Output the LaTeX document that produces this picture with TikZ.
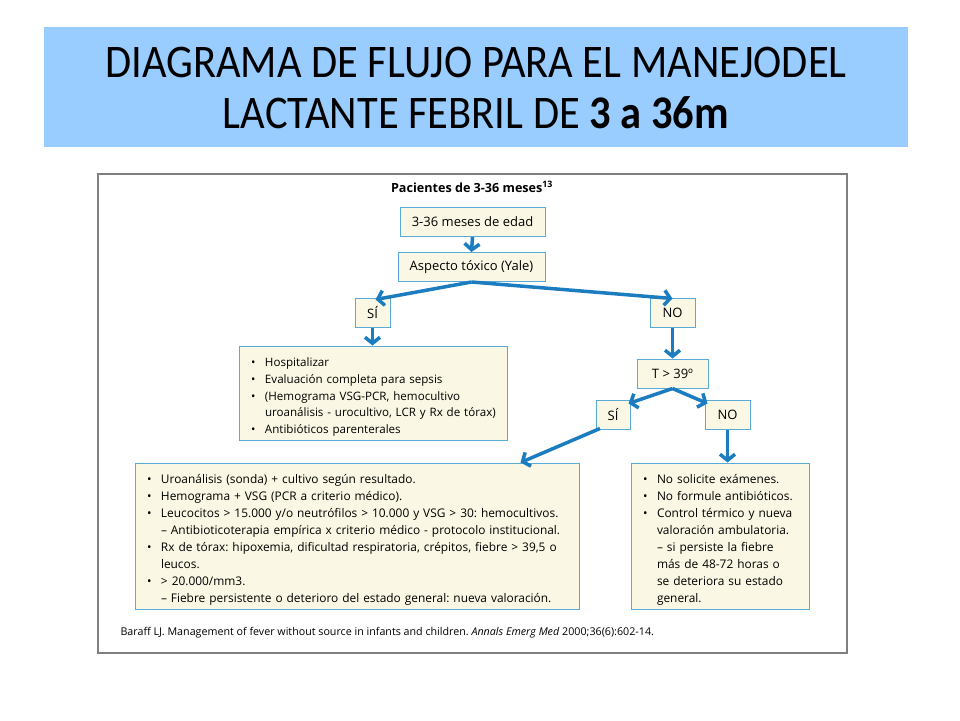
\documentclass[tikz,border=0pt]{standalone}
\usepackage{fontspec}
\setmainfont{Open Sans}
\newfontfamily\titlefont{Carlito}
\usetikzlibrary{arrows.meta,calc}
\definecolor{titlebg}{HTML}{99CCFF}
\definecolor{arrowblue}{HTML}{1C7CC0}
\definecolor{boxfill}{HTML}{FAF8E4}
\definecolor{boxline}{HTML}{5AAAD8}
\definecolor{framegray}{HTML}{7F7F7F}
\frenchspacing
\newcommand{\nl}{\hfil\break}
\newcommand{\bitem}[1]{\par\noindent\hangindent=15pt\hangafter=1\makebox[15pt][l]{\hspace{1pt}\textbullet}#1\par}
\newcommand{\citem}[1]{\par\noindent\hspace*{15pt}#1\par}
\begin{document}
\begin{tikzpicture}[x=1pt,y=-1pt,
  box/.style={draw=boxline, fill=boxfill, line width=1pt, inner sep=0pt, font=\fontsize{13}{15}\selectfont},
  smallbox/.style={box, minimum height=29pt},
  listbox/.style={box, align=left, inner xsep=11pt, font=\fontsize{11.9}{16.9}\selectfont},
  arr/.style={draw=arrowblue, line width=3.5pt, -{Straight Barb[length=6pt,width=15pt]}}]
\useasboundingbox (0,0) rectangle (960,720);
% title
\node[fill=titlebg, minimum width=864pt, minimum height=120pt] (title) at (476,87) {};
\node[align=center, yscale=1.1, font=\titlefont\fontsize{42.5}{46}\selectfont] (titletext) at (476,88)
  {DIAGRAMA DE FLUJO PARA EL MANEJODEL\\LACTANTE FEBRIL DE \textbf{3 a 36m}};
% frame
\node[draw=framegray, line width=1.5pt, minimum width=749pt, minimum height=479pt] (frame) at (472.5,413.5) {};
\node[font=\bfseries\fontsize{12.6}{14}\selectfont] (hdr) at (472,187) {Pacientes de 3-36 meses\textsuperscript{13}};
% small boxes
\node[smallbox, minimum width=145pt] (b1) at (472.5,222) {3-36 meses de edad};
\node[smallbox, minimum width=147pt] (b2) at (471.5,267) {Aspecto tóxico (Yale)};
\node[smallbox, minimum width=35pt] (si1) at (372.5,312.5) {SÍ};
\node[smallbox, minimum width=45pt] (no1) at (672.5,312.5) {NO};
\node[smallbox, minimum width=71pt] (t39) at (672.5,373.5) {T > 39º};
\node[smallbox, minimum width=34pt] (si2) at (613,414.5) {SÍ};
\node[smallbox, minimum width=45pt] (no2) at (727.5,414.5) {NO};
% list boxes
\node[listbox, minimum width=268pt, minimum height=94pt, text width=246pt, font=\fontsize{11.6}{16.9}\selectfont] (tl) at (373,393)
 {\bitem{Hospitalizar}
  \bitem{Evaluación completa para sepsis}
  \bitem{(Hemograma VSG-PCR, hemocultivo\nl \mbox{uroanálisis - urocultivo, LCR y Rx de tórax)}}
  \bitem{Antibióticos parenterales}};
\node[listbox, minimum width=444pt, minimum height=146pt, text width=422pt] (bl) at (357,536)
 {\bitem{Uroanálisis (sonda) + cultivo según resultado.}
  \bitem{Hemograma + VSG (PCR a criterio médico).}
  \bitem{Leucocitos > 15.000 y/o neutrófilos > 10.000 y VSG > 30: hemocultivos.}
  \citem{– Antibioticoterapia empírica x criterio médico - protocolo institucional.}
  \bitem{Rx de tórax: hipoxemia, dificultad respiratoria, crépitos, fiebre > 39,5 o\nl leucos.}
  \bitem{> 20.000/mm3.}
  \citem{– Fiebre persistente o deterioro del estado general: nueva valoración.}};
\node[listbox, minimum width=178pt, minimum height=146pt, text width=156pt] (br) at (720,536)
 {\bitem{No solicite exámenes.}
  \bitem{No formule antibióticos.}
  \bitem{Control térmico y nueva\nl valoración ambulatoria.\nl – si persiste la fiebre\nl más de 48-72 horas o\nl se deteriora su estado\nl general.}};
% footer
\node[anchor=west, font=\fontsize{10.7}{12}\selectfont] (ref) at (117,633)
 {Baraff LJ. Management of fever without source in infants and children. \textit{Annals Emerg Med} 2000;36(6):602-14.};
% arrows
\draw[arr] (b1.south) -- (b2.north);
\draw[arr] (b2.south) -- ($(si1.north)+(3,2)$);
\draw[arr] (b2.south) -- ($(no1.north)+(0,1)$);
\draw[arr] (si1.south) -- (tl.north -| si1.south);
\draw[arr] (no1.south) -- (t39.north);
\draw[arr] (t39.south) -- ($(si2.north east)+(-2,4)$);
\draw[arr] (t39.south) -- ($(no2.north west)+(3,4)$);
\draw[arr] ($(si2.south)+(-13,-1)$) -- ($(bl.north east)+(-59,0)$);
\draw[arr] (no2.south) -- (no2.south |- br.north);
\end{tikzpicture}
\end{document}
